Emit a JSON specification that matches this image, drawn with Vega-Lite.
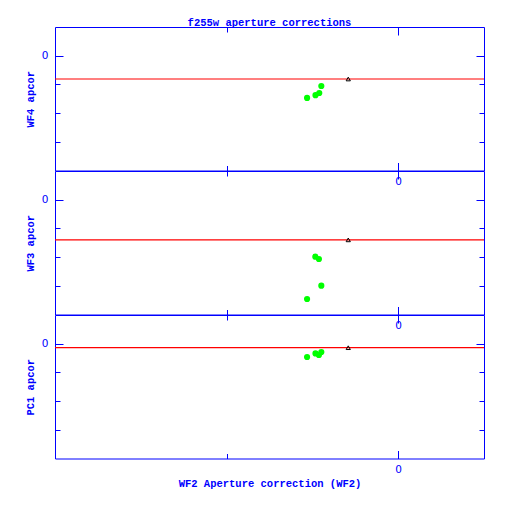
{
  "$schema": "https://vega.github.io/schema/vega-lite/v6.json",
  "padding": {"left": 24, "top": 17, "right": 5, "bottom": 5},
  "background": "white",
  "title": {"text": "f255w aperture corrections", "anchor": "middle", "frame": "group", "offset": -2},
  "bounds": "flush",
  "spacing": 0,
  "datasets": {
    "wf4": [
      {"wf2": -0.0531, "apcor": -0.147},
      {"wf2": -0.0482, "apcor": -0.1376},
      {"wf2": -0.046, "apcor": -0.130},
      {"wf2": -0.0448, "apcor": -0.1056}
    ],
    "wf4_ref": [{"wf2": -0.0291, "apcor": -0.0812}],
    "wf3": [
      {"wf2": -0.0483, "apcor": -0.1986},
      {"wf2": -0.0462, "apcor": -0.2066},
      {"wf2": -0.0448, "apcor": -0.2996},
      {"wf2": -0.0531, "apcor": -0.346}
    ],
    "wf3_ref": [{"wf2": -0.0291, "apcor": -0.140}],
    "pc1": [
      {"wf2": -0.0531, "apcor": -0.0463},
      {"wf2": -0.0482, "apcor": -0.0338},
      {"wf2": -0.0462, "apcor": -0.0394},
      {"wf2": -0.0448, "apcor": -0.0289}
    ],
    "pc1_ref": [{"wf2": -0.0291, "apcor": -0.0139}]
  },
  "vconcat": [
    {
      "width": 429, "height": 143.5,
      "layer": [
        {"data": {"name": "wf4_ref"}, "mark": {"type": "rule", "color": "#ff0000", "strokeWidth": 1.2},
         "encoding": {"y": {"field": "apcor", "type": "quantitative", "scale": {"domain": [-0.4, 0.1], "nice": false, "zero": false},
           "axis": {"orient": "left", "title": "WF4 apcor", "values": [-0.3, -0.2, -0.1, 0], "labelExpr": "datum.value == 0 ? '0' : ''",
             "tickSize": {"condition": {"test": "datum.value == 0", "value": -8}, "value": -5}, "labelPadding": 15,
             "titleX": -25, "titleY": 71.75, "titleAngle": -90, "titleBaseline": "middle", "titleAlign": "center"}}}},
        {"data": {"name": "wf4"}, "mark": {"type": "circle", "color": "#00ff00", "size": 38, "opacity": 1},
         "encoding": {"x": {"field": "wf2", "type": "quantitative", "scale": {"domain": [-0.2, 0.05], "nice": false, "zero": false},
           "axis": {"orient": "bottom", "title": null, "values": [-0.1, 0], "labelExpr": "datum.value == 0 ? '0' : ''",
             "tickSize": {"condition": {"test": "datum.value == 0", "value": -8}, "value": -5}, "labelPadding": 14}},
           "y": {"field": "apcor", "type": "quantitative", "axis": null}}},
        {"data": {"name": "wf4_ref"}, "mark": {"type": "point", "shape": "triangle-up", "color": "black", "filled": false, "size": 18, "strokeWidth": 1, "opacity": 1},
         "encoding": {"x": {"field": "wf2", "type": "quantitative",
           "axis": {"orient": "top", "title": null, "values": [-0.1, 0], "labels": false,
             "tickSize": {"condition": {"test": "datum.value == 0", "value": -8}, "value": -5}}},
           "y": {"field": "apcor", "type": "quantitative",
           "axis": {"orient": "right", "title": null, "values": [-0.3, -0.2, -0.1, 0], "labels": false,
             "tickSize": {"condition": {"test": "datum.value == 0", "value": -8}, "value": -5}}}}}
      ],
      "resolve": {"axis": {"x": "independent", "y": "independent"}}
    },
    {
      "width": 429, "height": 143.5,
      "layer": [
        {"data": {"name": "wf3_ref"}, "mark": {"type": "rule", "color": "#ff0000", "strokeWidth": 1.2},
         "encoding": {"y": {"field": "apcor", "type": "quantitative", "scale": {"domain": [-0.4, 0.1], "nice": false, "zero": false},
           "axis": {"orient": "left", "title": "WF3 apcor", "values": [-0.3, -0.2, -0.1, 0], "labelExpr": "datum.value == 0 ? '0' : ''",
             "tickSize": {"condition": {"test": "datum.value == 0", "value": -8}, "value": -5}, "labelPadding": 15,
             "titleX": -25, "titleY": 71.75, "titleAngle": -90, "titleBaseline": "middle", "titleAlign": "center"}}}},
        {"data": {"name": "wf3"}, "mark": {"type": "circle", "color": "#00ff00", "size": 38, "opacity": 1},
         "encoding": {"x": {"field": "wf2", "type": "quantitative", "scale": {"domain": [-0.2, 0.05], "nice": false, "zero": false},
           "axis": {"orient": "bottom", "title": null, "values": [-0.1, 0], "labelExpr": "datum.value == 0 ? '0' : ''",
             "tickSize": {"condition": {"test": "datum.value == 0", "value": -8}, "value": -5}, "labelPadding": 14}},
           "y": {"field": "apcor", "type": "quantitative", "axis": null}}},
        {"data": {"name": "wf3_ref"}, "mark": {"type": "point", "shape": "triangle-up", "color": "black", "filled": false, "size": 18, "strokeWidth": 1, "opacity": 1},
         "encoding": {"x": {"field": "wf2", "type": "quantitative",
           "axis": {"orient": "top", "title": null, "values": [-0.1, 0], "labels": false,
             "tickSize": {"condition": {"test": "datum.value == 0", "value": -8}, "value": -5}}},
           "y": {"field": "apcor", "type": "quantitative",
           "axis": {"orient": "right", "title": null, "values": [-0.3, -0.2, -0.1, 0], "labels": false,
             "tickSize": {"condition": {"test": "datum.value == 0", "value": -8}, "value": -5}}}}}
      ],
      "resolve": {"axis": {"x": "independent", "y": "independent"}}
    },
    {
      "width": 429, "height": 143.5,
      "layer": [
        {"data": {"name": "pc1_ref"}, "mark": {"type": "rule", "color": "#ff0000", "strokeWidth": 1.2},
         "encoding": {"y": {"field": "apcor", "type": "quantitative", "scale": {"domain": [-0.4, 0.1], "nice": false, "zero": false},
           "axis": {"orient": "left", "title": "PC1 apcor", "values": [-0.3, -0.2, -0.1, 0], "labelExpr": "datum.value == 0 ? '0' : ''",
             "tickSize": {"condition": {"test": "datum.value == 0", "value": -8}, "value": -5}, "labelPadding": 15,
             "titleX": -25, "titleY": 71.75, "titleAngle": -90, "titleBaseline": "middle", "titleAlign": "center"}}}},
        {"data": {"name": "pc1"}, "mark": {"type": "circle", "color": "#00ff00", "size": 38, "opacity": 1},
         "encoding": {"x": {"field": "wf2", "type": "quantitative", "scale": {"domain": [-0.2, 0.05], "nice": false, "zero": false},
           "axis": {"orient": "bottom", "title": "WF2 Aperture correction (WF2)", "values": [-0.1, 0], "labelExpr": "datum.value == 0 ? '0' : ''",
             "tickSize": {"condition": {"test": "datum.value == 0", "value": -8}, "value": -5}, "labelPadding": 14,
             "titleX": 214.5, "titleY": 25, "titleBaseline": "middle", "titleAlign": "center"}},
           "y": {"field": "apcor", "type": "quantitative", "axis": null}}},
        {"data": {"name": "pc1_ref"}, "mark": {"type": "point", "shape": "triangle-up", "color": "black", "filled": false, "size": 18, "strokeWidth": 1, "opacity": 1},
         "encoding": {"x": {"field": "wf2", "type": "quantitative",
           "axis": {"orient": "top", "title": null, "values": [-0.1, 0], "labels": false,
             "tickSize": {"condition": {"test": "datum.value == 0", "value": -8}, "value": -5}}},
           "y": {"field": "apcor", "type": "quantitative",
           "axis": {"orient": "right", "title": null, "values": [-0.3, -0.2, -0.1, 0], "labels": false,
             "tickSize": {"condition": {"test": "datum.value == 0", "value": -8}, "value": -5}}}}}
      ],
      "resolve": {"axis": {"x": "independent", "y": "independent"}}
    }
  ],
  "config": {
    "view": {"stroke": "#0000ff", "strokeWidth": 1},
    "axis": {"domain": false, "grid": false, "tickColor": "#0000ff", "tickWidth": 1, "labelColor": "#0000ff", "titleColor": "#0000ff",
      "labelFont": "DejaVu Sans", "labelFontSize": 10.5, "titleFont": "Liberation Mono", "titleFontSize": 10.5, "titleFontWeight": "bold"},
    "title": {"font": "Liberation Mono", "fontSize": 10.5, "fontWeight": "bold", "color": "#0000ff"}
  }
}
